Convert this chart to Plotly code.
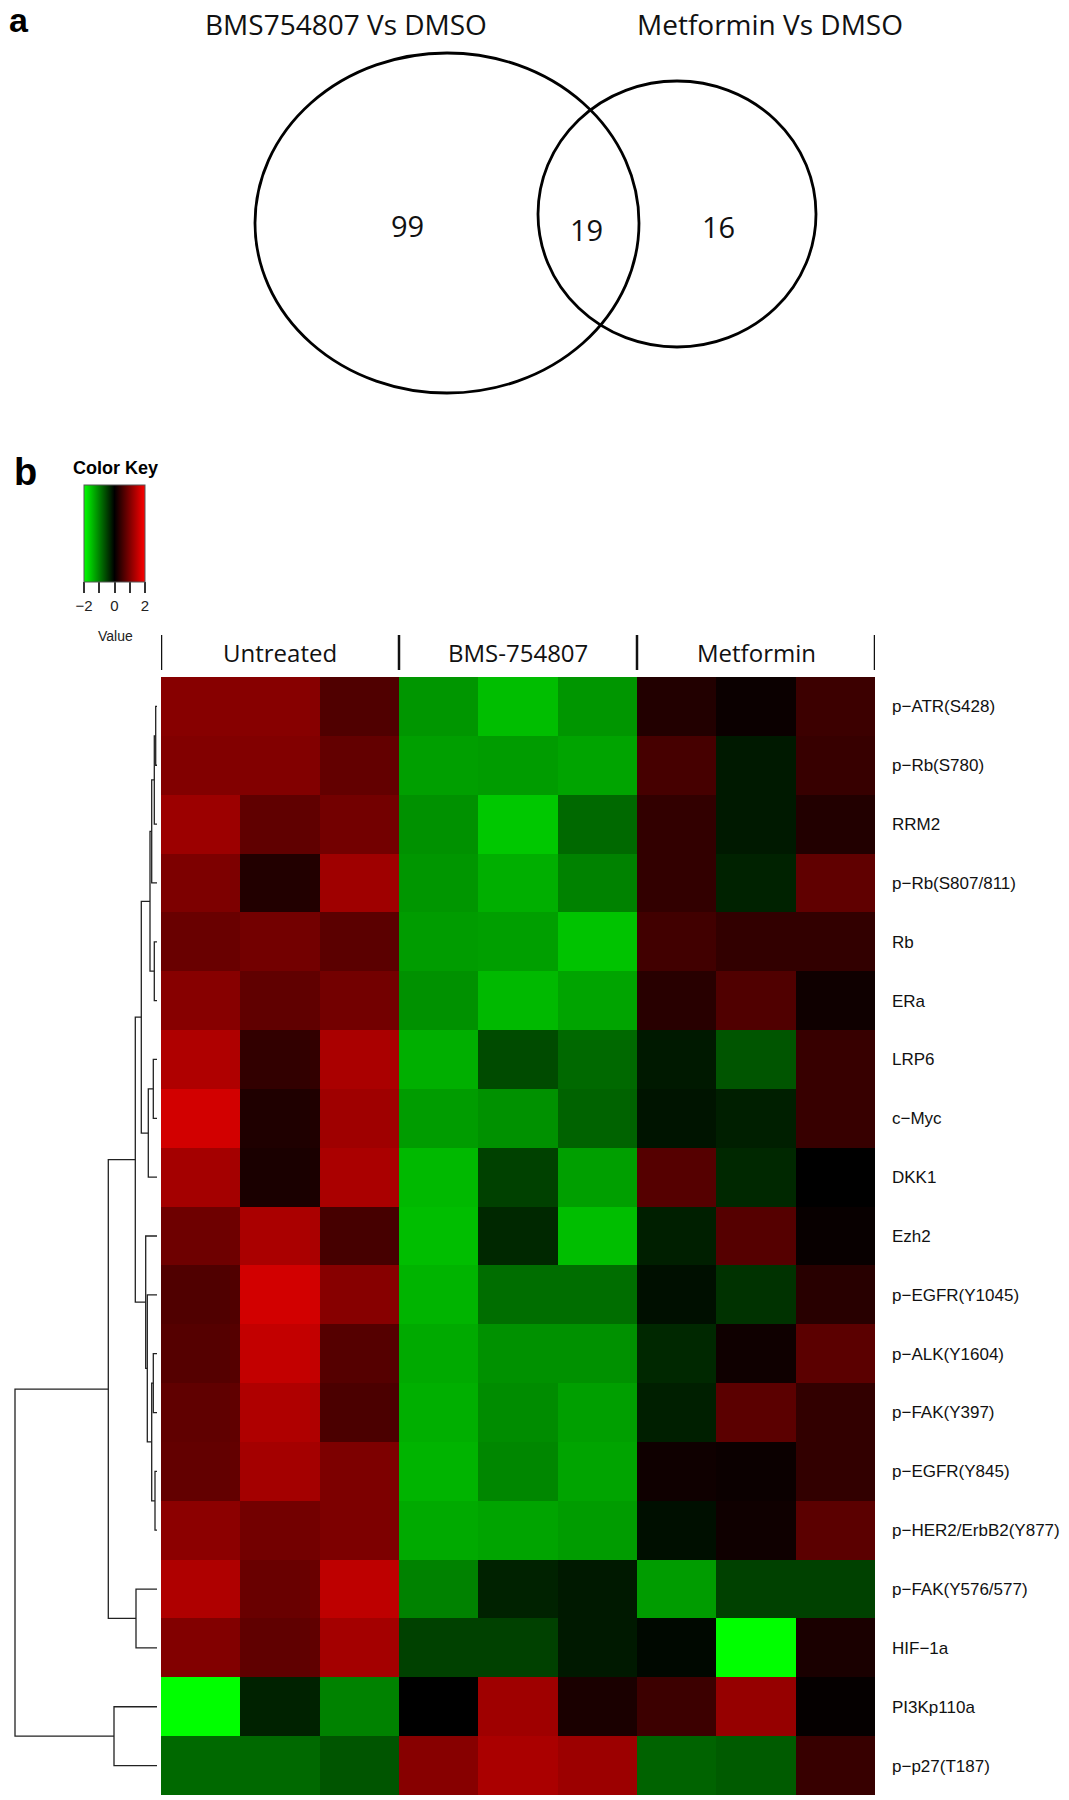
import plotly.graph_objects as go

W, H = 1069, 1800

# ---- panel a: Venn ----
venn_sets = ["BMS754807 Vs DMSO", "Metformin Vs DMSO"]
venn_counts = [99, 19, 16]   # only BMS, both, only Metformin

# ---- panel b: heatmap ----
groups = ["Untreated", "BMS-754807", "Metformin"]
row_labels = [
    "p−ATR(S428)", "p−Rb(S780)", "RRM2", "p−Rb(S807/811)", "Rb", "ERa",
    "LRP6", "c−Myc", "DKK1", "Ezh2", "p−EGFR(Y1045)", "p−ALK(Y1604)",
    "p−FAK(Y397)", "p−EGFR(Y845)", "p−HER2/ErbB2(Y877)", "p−FAK(Y576/577)",
    "HIF−1a", "PI3Kp110a", "p−p27(T187)",
]
untreated = [
    [1.06, 1.06, 0.63], [1.02, 1.02, 0.78], [1.22, 0.75, 0.90], [0.98, 0.27, 1.25],
    [0.82, 0.90, 0.71], [1.06, 0.75, 0.90], [1.37, 0.39, 1.33], [1.65, 0.24, 1.25],
    [1.29, 0.20, 1.33], [0.86, 1.33, 0.55], [0.63, 1.65, 1.06], [0.67, 1.53, 0.67],
    [0.75, 1.37, 0.59], [0.78, 1.29, 0.98], [1.10, 0.90, 0.98], [1.37, 0.82, 1.49],
    [1.02, 0.75, 1.29], [-2.00, -0.27, -1.02], [-0.82, -0.82, -0.67],
]
bms = [
    [-1.18, -1.49, -1.18], [-1.25, -1.22, -1.29], [-1.14, -1.57, -0.82], [-1.18, -1.37, -1.02],
    [-1.22, -1.25, -1.53], [-1.14, -1.45, -1.29], [-1.37, -0.59, -0.82], [-1.22, -1.14, -0.78],
    [-1.45, -0.51, -1.25], [-1.49, -0.31, -1.49], [-1.41, -0.86, -0.86], [-1.33, -1.14, -1.14],
    [-1.37, -1.10, -1.25], [-1.41, -1.06, -1.29], [-1.33, -1.29, -1.22], [-1.02, -0.27, -0.20],
    [-0.51, -0.51, -0.20], [0.00, 1.25, 0.20], [1.06, 1.33, 1.22],
]
metformin = [
    [0.27, 0.09, 0.47], [0.55, -0.20, 0.43], [0.39, -0.20, 0.27], [0.39, -0.27, 0.75],
    [0.51, 0.39, 0.39], [0.31, 0.63, 0.12], [-0.20, -0.67, 0.43], [-0.16, -0.24, 0.43],
    [0.67, -0.31, 0.00], [-0.24, 0.67, 0.06], [-0.12, -0.39, 0.31], [-0.31, 0.12, 0.71],
    [-0.24, 0.71, 0.39], [0.12, 0.09, 0.39], [-0.12, 0.12, 0.71], [-1.22, -0.51, -0.51],
    [-0.06, -2.00, 0.20], [0.47, 1.18, 0.04], [-0.78, -0.71, 0.43],
]
# row dendrogram, linkage style: (child a, child b, height); leaves 0..18, new nodes 19..
merges = [
    (0, 1, 1.3), (19, 2, 2.7), (20, 3, 5.3), (4, 5, 2.7), (21, 22, 7.0),
    (6, 7, 3.7), (24, 8, 8.7), (23, 25, 15.7), (11, 12, 3.7), (13, 14, 2.0),
    (27, 28, 5.3), (10, 29, 9.7), (9, 30, 11.3), (26, 31, 21.7), (15, 16, 21.0),
    (32, 33, 48.7), (17, 18, 43.0), (34, 35, 142.0),
]

z = [u + b + m for u, b, m in zip(untreated, bms, metformin)]
n_rows, n_cols = len(row_labels), len(z[0])


def px(x):
    return x / W


def py(y):
    return 1 - y / H


def note(text, x, y, size, family="Liberation Sans", color="#111", xref="paper"):
    return dict(text=text, x=x, y=y, xref=xref, yref="paper", showarrow=False,
                xanchor="center", yanchor="middle",
                font=dict(family=family, size=size, color=color))


fig = go.Figure()

fig.add_trace(go.Heatmap(
    z=z, x=list(range(n_cols)), y=list(range(n_rows)),
    zmin=-2, zmax=2,
    colorscale=[[0, "#00ff00"], [0.5, "#000000"], [1, "#ff0000"]],
    hoverinfo="skip",
    colorbar=dict(
        orientation="h", x=px(84), xanchor="left", y=py(485), yanchor="top",
        len=61, lenmode="pixels", thickness=97, thicknessmode="pixels",
        xpad=0, ypad=0, outlinewidth=1, outlinecolor="#555",
        tickvals=[-2, -1, 0, 1, 2], ticktext=["−2", "", "0", "", "2"],
        ticks="outside", ticklen=11, tickwidth=1.5, tickcolor="#333",
        tickfont=dict(family="Liberation Sans", size=15, color="#222"),
    ),
))

# dendrogram segments
node_y = {i: float(i) for i in range(n_rows)}
node_h = {i: 0.0 for i in range(n_rows)}
dx, dy = [], []
for k, (a, b, h) in enumerate(merges):
    nid = n_rows + k
    dx += [node_h[a], h, h, node_h[b], None]
    dy += [node_y[a], node_y[a], node_y[b], node_y[b], None]
    node_y[nid] = (node_y[a] + node_y[b]) / 2
    node_h[nid] = h
fig.add_trace(go.Scatter(x=dx, y=dy, mode="lines", xaxis="x2", yaxis="y",
                         line=dict(color="#222", width=1.3), hoverinfo="skip",
                         showlegend=False))

fig.update_layout(
    width=W, height=H, margin=dict(l=0, r=0, t=0, b=0, autoexpand=False),
    paper_bgcolor="white", plot_bgcolor="white", showlegend=False,
    xaxis=dict(domain=[px(161), px(875)], range=[-0.5, n_cols - 0.5],
               visible=False, anchor="y"),
    yaxis=dict(domain=[py(1795), py(677)], range=[n_rows - 0.5, -0.5],
               tickvals=list(range(n_rows)), ticktext=row_labels, side="right",
               anchor="x", showgrid=False, zeroline=False, ticks="",
               ticklabelstandoff=16, showline=False, automargin=False,
               tickfont=dict(family="Liberation Sans", size=17, color="#111")),
    xaxis2=dict(domain=[0, px(161)], range=[157, -4], visible=False, anchor="y"),
)

shapes, annotations = [], []

# Venn ellipses
for cx, cy, rx, ry in [(447, 223, 192, 170), (677, 214, 139, 133)]:
    shapes.append(dict(type="circle", xref="paper", yref="paper",
                       x0=px(cx - rx), x1=px(cx + rx), y0=py(cy + ry), y1=py(cy - ry),
                       line=dict(color="black", width=2.8)))
for name, cx in zip(venn_sets, [346, 770]):
    annotations.append(note(name, px(cx), py(24), 28, family="Open Sans"))
for cnt, (cx, cy) in zip(venn_counts, [(407, 225), (586, 230), (718, 227)]):
    annotations.append(note(str(cnt), px(cx), py(cy), 29, family="Open Sans"))

# panel letters and colour key text
annotations += [
    note("<b>a</b>", px(19), py(20), 34, color="black"),
    note("<b>b</b>", px(25), py(472), 38, color="black"),
    note("<b>Color Key</b>", px(115), py(468), 18, color="black"),
    note("Value", px(115), py(636), 14, color="#222"),
]

# group header bars and names
bounds = [-0.5, 2.5, 5.5, 8.5]
for xb in bounds:
    shapes.append(dict(type="line", xref="x", yref="paper", x0=xb, x1=xb,
                       y0=py(670), y1=py(635), line=dict(color="#111", width=2.5)))
for i, g in enumerate(groups):
    annotations.append(note(g, (bounds[i] + bounds[i + 1]) / 2, py(652), 24,
                            family="Open Sans", xref="x"))

fig.update_layout(shapes=shapes, annotations=annotations)
fig.write_html("out.html", config={"displayModeBar": False},
               post_script="document.body.style.margin='0';")
